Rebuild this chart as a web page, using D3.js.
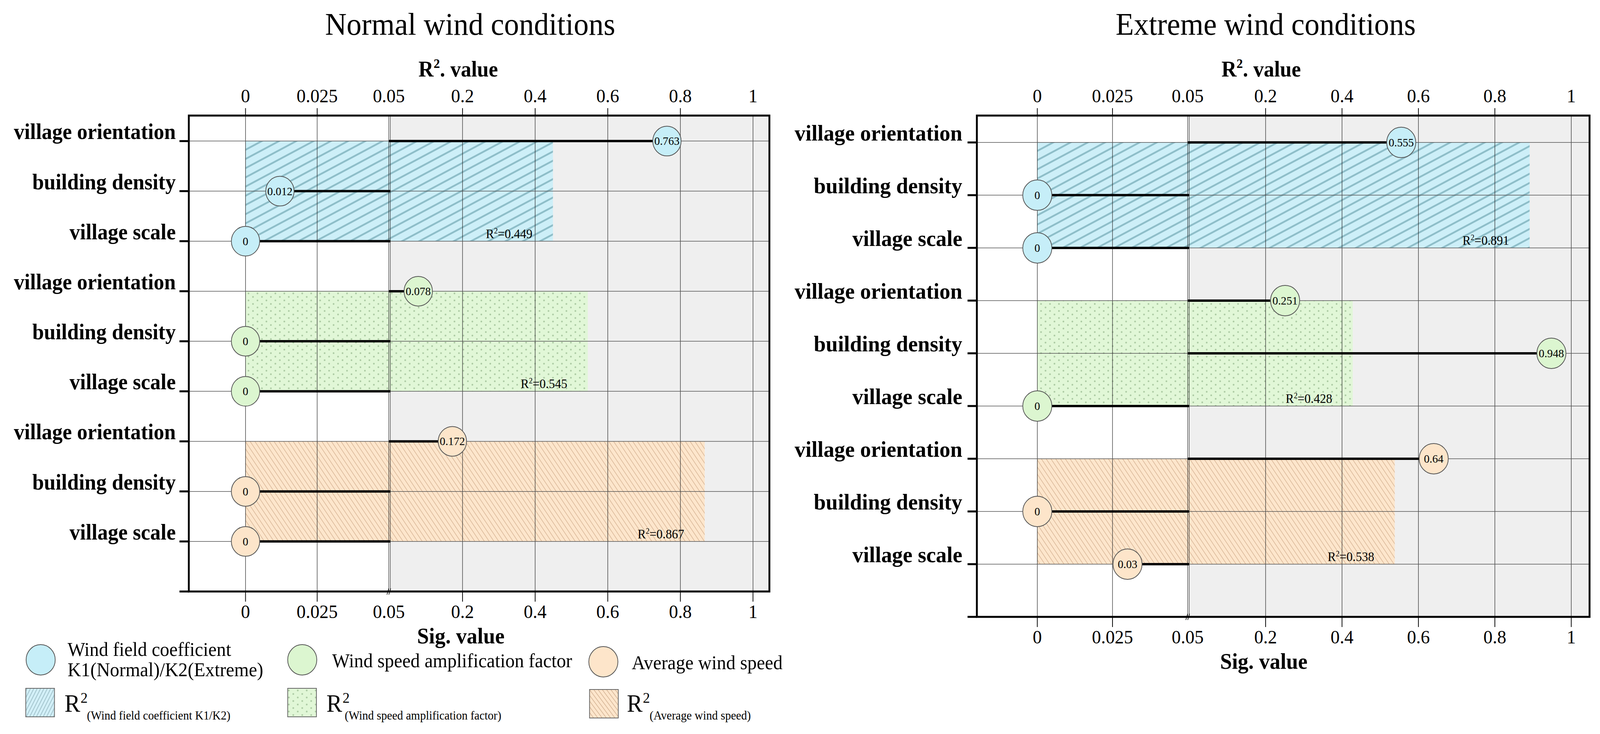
<!DOCTYPE html>
<html>
<head>
<meta charset="utf-8">
<script src="https://cdn.jsdelivr.net/npm/d3@7"></script>
<style>
  html, body { margin: 0; padding: 0; background: #ffffff; overflow: hidden; width: 100%; height: 100%; }
  svg { display: block; width: 100vw; height: 100vh; font-family: "Liberation Serif", "Times New Roman", serif; }
</style>
</head>
<body>
<svg id="chart" viewBox="0 0 4288 1880" preserveAspectRatio="none"></svg>
<script>
// ---------------- data ----------------
const panelTitles = ["Normal wind conditions", "Extreme wind conditions"];
const factors = ["village orientation", "building density", "village scale"];
const indicatorNames = ["Wind field coefficient", "Wind speed amplification factor", "Average wind speed"];

// Sig. values, per indicator (rows: orientation, density, scale)
const sigNormal = [
  [0.763, 0.012, 0],
  [0.078, 0, 0],
  [0.172, 0, 0]
];
const sigExtreme = [
  [0.555, 0, 0],
  [0.251, 0.948, 0],
  [0.64, 0, 0.03]
];
// R² values per indicator
const r2Normal = [0.449, 0.545, 0.867];
const r2Extreme = [0.891, 0.428, 0.538];

// axis ticks
const sigTicks = [0, 0.025, 0.05];
const r2Ticks = [0.2, 0.4, 0.6, 0.8, 1];
const sigTickLabels = ["0", "0.025", "0.05"];
const r2TickLabels = ["0.2", "0.4", "0.6", "0.8", "1"];

// legend texts
const legendCircleLines = [["Wind field coefficient", "K1(Normal)/K2(Extreme)"], ["Wind speed amplification factor"], ["Average wind speed"]];
const legendR2Subs = ["(Wind field coefficient K1/K2)", "(Wind speed amplification factor)", "(Average wind speed)"];

// ---------------- styles ----------------
const dotFill = ["#c6eef8", "#dcf6d0", "#fde5ca"];
const barPattern = ["url(#hatchBlue)", "url(#dotGreen)", "url(#hatchOrange)"];
const legendPattern = ["url(#legBlue)", "url(#dotGreen)", "url(#legOrange)"];

const svg = d3.select("#chart");
const defs = svg.append("defs");

// blue "/" hatch
const pb = defs.append("pattern").attr("id", "hatchBlue").attr("patternUnits", "userSpaceOnUse")
  .attr("width", 21).attr("height", 21).attr("patternTransform", "rotate(-27)");
pb.append("rect").attr("width", 21).attr("height", 21).attr("fill", "#cdeff8");
pb.append("line").attr("x1", 0).attr("x2", 21).attr("y1", 10.5).attr("y2", 10.5)
  .attr("stroke", "#8cbcc7").attr("stroke-width", 4.5);

// green dots
const pg = defs.append("pattern").attr("id", "dotGreen").attr("patternUnits", "userSpaceOnUse")
  .attr("width", 24).attr("height", 18);
pg.append("rect").attr("width", 24).attr("height", 18).attr("fill", "#e1f7d7");
pg.append("circle").attr("cx", 6).attr("cy", 4.5).attr("r", 2.2).attr("fill", "#a9c8a0");
pg.append("circle").attr("cx", 18).attr("cy", 13.5).attr("r", 2.2).attr("fill", "#a9c8a0");

// orange "\" hatch
const po = defs.append("pattern").attr("id", "hatchOrange").attr("patternUnits", "userSpaceOnUse")
  .attr("width", 10.5).attr("height", 10.5).attr("patternTransform", "rotate(55)");
po.append("rect").attr("width", 10.5).attr("height", 10.5).attr("fill", "#fde6cc");
po.append("line").attr("x1", 0).attr("x2", 10.5).attr("y1", 5).attr("y2", 5)
  .attr("stroke", "#d4b08f").attr("stroke-width", 1.4);

// legend variants
const lb = defs.append("pattern").attr("id", "legBlue").attr("patternUnits", "userSpaceOnUse")
  .attr("width", 8).attr("height", 8).attr("patternTransform", "rotate(-62)");
lb.append("rect").attr("width", 8).attr("height", 8).attr("fill", "#d3f0f8");
lb.append("line").attr("x1", 0).attr("x2", 8).attr("y1", 4).attr("y2", 4)
  .attr("stroke", "#86aab3").attr("stroke-width", 1.3);
const lo = defs.append("pattern").attr("id", "legOrange").attr("patternUnits", "userSpaceOnUse")
  .attr("width", 9).attr("height", 9).attr("patternTransform", "rotate(52)");
lo.append("rect").attr("width", 9).attr("height", 9).attr("fill", "#fde6cc");
lo.append("line").attr("x1", 0).attr("x2", 9).attr("y1", 4.5).attr("y2", 4.5)
  .attr("stroke", "#c9a585").attr("stroke-width", 1.3);

// ---------------- layout ----------------
const layouts = [
  { frameL: 506, frameR: 2062, top: 296, bottom: 1515, x0: 658, xJ: 1042, xHi0: 1045, x1: 2018,
    titleX: 1260, r2TitleX: 1228, sigTitleX: 1235, labelR: 471, labelSize: 56, r: 38 },
  { frameL: 2618, frameR: 4260, top: 296, bottom: 1580, x0: 2780, xJ: 3183, xHi0: 3187, x1: 4211,
    titleX: 3392, r2TitleX: 3380, sigTitleX: 3387, labelR: 2579, labelSize: 58, r: 39 }
];

function drawPanel(cfg, title, sig, r2) {
  const g = svg.append("g");
  const xLo = d3.scaleLinear().domain([0, 0.05]).range([cfg.x0, cfg.xJ]);
  const xHi = d3.scaleLinear().domain([0, 1]).range([cfg.xHi0, cfg.x1]);
  const xv = v => (v <= 0.05 ? xLo(v) : xHi(v));
  const y = d3.scaleLinear().domain([-0.51, 9]).range([cfg.top, cfg.bottom]);

  // row data
  const rows = [];
  sig.forEach((arr, gi) => arr.forEach((v, k) => rows.push({ gi, k, v, idx: gi * 3 + k, label: factors[k] })));

  // gray significance background
  g.append("rect").attr("x", cfg.xJ + 5).attr("y", cfg.top)
    .attr("width", cfg.frameR - cfg.xJ - 5).attr("height", cfg.bottom - cfg.top)
    .attr("fill", "#efefef");

  // R² bars
  g.selectAll("rect.bar").data(r2).enter().append("rect").attr("class", "bar")
    .attr("x", xLo(0))
    .attr("y", (d, i) => y(i * 3))
    .attr("width", d => xHi(d) - xLo(0))
    .attr("height", (d, i) => y(i * 3 + 2) - y(i * 3))
    .attr("fill", (d, i) => barPattern[i]);

  // vertical gridlines
  const vgx = sigTicks.slice(0, 2).map(v => xLo(v)).concat(r2Ticks.map(v => xHi(v)));
  g.selectAll("line.vg").data(vgx).enter().append("line")
    .attr("x1", d => d).attr("x2", d => d).attr("y1", cfg.top).attr("y2", cfg.bottom)
    .attr("stroke", "#2a2a2a").attr("stroke-width", 1.3);
  // doubled line at the 0.05 break
  [xLo(0.05), xLo(0.05) + 4].forEach(xx => {
    g.append("line").attr("x1", xx).attr("x2", xx).attr("y1", cfg.top).attr("y2", cfg.bottom)
      .attr("stroke", "#2a2a2a").attr("stroke-width", 1.3);
  });

  // horizontal row lines
  g.selectAll("line.hg").data(rows).enter().append("line")
    .attr("x1", cfg.frameL).attr("x2", cfg.frameR)
    .attr("y1", d => y(d.idx)).attr("y2", d => y(d.idx))
    .attr("stroke", "#555").attr("stroke-width", 1.5);

  // lollipop stems (to the 0.05 threshold)
  g.selectAll("line.stem").data(rows).enter().append("line")
    .attr("x1", d => Math.min(xv(d.v), xLo(0.05)))
    .attr("x2", d => Math.max(xv(d.v), xLo(0.05) + 4))
    .attr("y1", d => y(d.idx)).attr("y2", d => y(d.idx))
    .attr("stroke", "#000").attr("stroke-width", 6);

  // dots
  g.selectAll("circle.dot").data(rows).enter().append("circle")
    .attr("cx", d => xv(d.v)).attr("cy", d => y(d.idx)).attr("r", cfg.r)
    .attr("fill", d => dotFill[d.gi]).attr("stroke", "#555").attr("stroke-width", 2);
  g.selectAll("text.dotlab").data(rows).enter().append("text")
    .attr("x", d => xv(d.v)).attr("y", d => y(d.idx) + 10)
    .attr("text-anchor", "middle").attr("font-size", 30).attr("fill", "#000")
    .text(d => String(d.v));

  // R² labels
  r2.forEach((v, i) => {
    const t = g.append("text").attr("x", xHi(v) - 55).attr("y", y(i * 3 + 2) - 8)
      .attr("text-anchor", "end").attr("font-size", 33).attr("fill", "#000");
    t.append("tspan").text("R");
    t.append("tspan").attr("font-size", 20).attr("dy", -12).text("2");
    t.append("tspan").attr("dy", 12).text("=" + v);
  });

  // y labels and ticks
  g.selectAll("text.ylab").data(rows).enter().append("text")
    .attr("x", cfg.labelR).attr("y", d => y(d.idx) - 5)
    .attr("text-anchor", "end").attr("font-size", cfg.labelSize).attr("font-weight", "bold")
    .text(d => d.label);
  const yt = rows.map(d => d.idx).concat([9]);
  g.selectAll("line.yt").data(yt).enter().append("line")
    .attr("x1", cfg.frameL - 25).attr("x2", cfg.frameL)
    .attr("y1", d => y(d)).attr("y2", d => y(d))
    .attr("stroke", "#000").attr("stroke-width", 5);

  // frame
  g.append("rect").attr("x", cfg.frameL).attr("y", cfg.top)
    .attr("width", cfg.frameR - cfg.frameL).attr("height", cfg.bottom - cfg.top)
    .attr("fill", "none").attr("stroke", "#000").attr("stroke-width", 5);

  // tick positions / labels
  const tickItems = sigTicks.map((v, i) => ({ x: xLo(v), label: sigTickLabels[i], v, lo: true }))
    .concat(r2Ticks.map((v, i) => ({ x: xHi(v), label: r2TickLabels[i], v, lo: false })));

  // top axis (R² value)
  const topTicks = tickItems.filter(d => !(d.lo && d.v === 0.05) && !(!d.lo && d.v === 1));
  g.selectAll("line.tt").data(topTicks).enter().append("line")
    .attr("x1", d => d.x).attr("x2", d => d.x).attr("y1", cfg.top - 19).attr("y2", cfg.top)
    .attr("stroke", "#000").attr("stroke-width", 2);
  g.selectAll("text.tl").data(tickItems).enter().append("text")
    .attr("x", d => d.x).attr("y", cfg.top - 34)
    .attr("text-anchor", "middle").attr("font-size", 49).text(d => d.label);

  // bottom axis (Sig. value)
  const botTicks = tickItems.filter(d => !(d.lo && d.v === 0.05));
  g.selectAll("line.bt").data(botTicks).enter().append("line")
    .attr("x1", d => d.x).attr("x2", d => d.x).attr("y1", cfg.bottom).attr("y2", cfg.bottom + 26)
    .attr("stroke", "#000").attr("stroke-width", 2);
  g.selectAll("text.bl").data(tickItems).enter().append("text")
    .attr("x", d => d.x).attr("y", cfg.bottom + 68)
    .attr("text-anchor", "middle").attr("font-size", 49).text(d => d.label);
  // break mark "//"
  const bx = xLo(0.05);
  [-2, 3].forEach(o => {
    g.append("line").attr("x1", bx + o - 3).attr("y1", cfg.bottom + 8)
      .attr("x2", bx + o + 2).attr("y2", cfg.bottom - 8)
      .attr("stroke", "#000").attr("stroke-width", 1.6);
  });

  // axis titles
  const rt = g.append("text").attr("x", cfg.r2TitleX).attr("y", cfg.top - 100)
    .attr("text-anchor", "middle").attr("font-size", 56).attr("font-weight", "bold");
  rt.append("tspan").text("R");
  rt.append("tspan").attr("font-size", 34).attr("dy", -22).text("2");
  rt.append("tspan").attr("dy", 22).text(". value");

  g.append("text").attr("x", cfg.sigTitleX).attr("y", cfg.bottom + 133)
    .attr("text-anchor", "middle").attr("font-size", 57).attr("font-weight", "bold")
    .text("Sig. value");

  // panel title
  g.append("text").attr("x", cfg.titleX).attr("y", 89)
    .attr("text-anchor", "middle").attr("font-size", 80).text(title);
}

drawPanel(layouts[0], panelTitles[0], sigNormal, r2Normal);
drawPanel(layouts[1], panelTitles[1], sigExtreme, r2Extreme);

// ---------------- legend ----------------
const legCircle = [{ cx: 109, cy: 1690, tx: 181 }, { cx: 810, cy: 1690, tx: 890 }, { cx: 1617, cy: 1695, tx: 1693 }];
const legSwatch = [{ x: 69, y: 1763, rx: 173, sx: 233 }, { x: 771, y: 1763, rx: 875, sx: 924 }, { x: 1580, y: 1766, rx: 1680, sx: 1741 }];
const lg = svg.append("g");
indicatorNames.forEach((name, i) => {
  const c = legCircle[i];
  lg.append("circle").attr("cx", c.cx).attr("cy", c.cy).attr("r", 39)
    .attr("fill", dotFill[i]).attr("stroke", "#555").attr("stroke-width", 2);
  const lines = legendCircleLines[i];
  lines.forEach((ln, j) => {
    const baseY = lines.length === 1 ? c.cy + 19 : c.cy - 10 + j * 52;
    lg.append("text").attr("x", c.tx).attr("y", baseY).attr("font-size", 50).text(ln);
  });
  const s = legSwatch[i];
  lg.append("rect").attr("x", s.x).attr("y", s.y).attr("width", 77).attr("height", 73)
    .attr("fill", legendPattern[i]).attr("stroke", "#666").attr("stroke-width", 2);
  lg.append("text").attr("x", s.rx).attr("y", 1823).attr("font-size", 63).text("R");
  lg.append("text").attr("x", s.rx + 43).attr("y", 1800).attr("font-size", 38).text("2");
  lg.append("text").attr("x", s.sx).attr("y", 1843).attr("font-size", 31).text(legendR2Subs[i]);
});
</script>
</body>
</html>
